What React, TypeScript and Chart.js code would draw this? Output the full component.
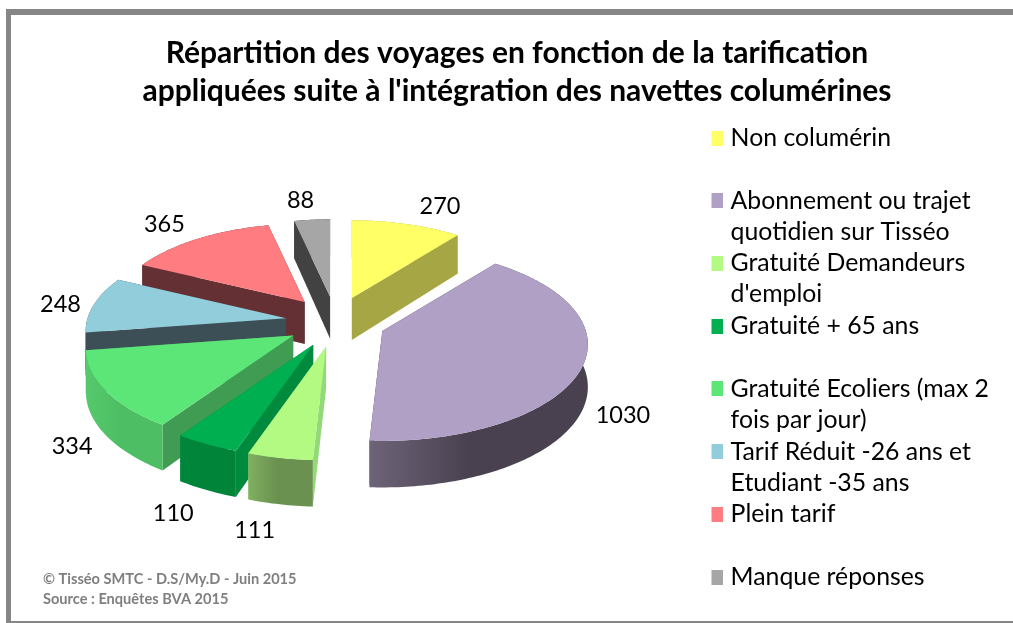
import React, { useEffect, useRef } from "react";
import { Chart, registerables } from "chart.js";

Chart.register(...registerables);

const titleLines = [
  "Répartition des voyages en fonction de la tarification",
  "appliquées suite à l'intégration des navettes columérines",
];
const footerLines = ["© Tisséo SMTC - D.S/My.D - Juin 2015", "Source : Enquêtes BVA 2015"];
const categories = [
  ["Non columérin", ""],
  ["Abonnement ou trajet", "quotidien sur Tisséo"],
  ["Gratuité Demandeurs", "d'emploi"],
  ["Gratuité + 65 ans", ""],
  ["Gratuité Ecoliers (max 2", "fois par jour)"],
  ["Tarif Réduit -26 ans et", "Etudiant -35 ans"],
  ["Plein tarif", ""],
  ["Manque réponses"],
];
const values = [270, 1030, 111, 110, 334, 248, 365, 88];
const topColors = ["#FFFF66", "#B0A0C6", "#B3FA82", "#00B050", "#5CE678", "#92CDDC", "#FF7C80", "#A6A6A6"];
const wallColors = ["#A6A645", "#4A4150", "#93D97A", "#008A3D", "#3F9C52", "#3C4F56", "#653033", "#424242"];
const rimLeftColors = ["#A6A645", "#6E6479", "#80B060", "#00863C", "#55C96C", "#3C4F56", "#653033", "#424242"];
const rimRightColors = ["#A6A645", "#4A4150", "#6A9150", "#00843A", "#4EBE64", "#3C4F56", "#653033", "#424242"];

// Projection of the pie plane onto the screen (a tilted disc seen in perspective).
const VIEW = { cx: 335.5, cy: 322, sx: 200, sy: 93, k: 0.14, tilt: 0.506, depth: 42, slicePersp: 0.05 };

const project = (theta: number, ax: number, ay: number, s: number) => {
  const u = Math.sin(theta);
  const v = -Math.cos(theta);
  const f = (1 / (1 - VIEW.k * v)) * s;
  return { x: ax + VIEW.sx * u * f, y: ay + VIEW.sy * v * f, u, v };
};

const depthAt = (v: number) => VIEW.depth + 4.5 * v;

const swatch = (color: string) => {
  const c = document.createElement("canvas");
  c.width = 15;
  c.height = 15;
  const x = c.getContext("2d")!;
  x.fillStyle = color;
  x.fillRect(0, 0, 15, 15);
  return c;
};

const pie3d = {
  id: "pie3d",
  beforeDatasetDraw(chart: any) {
    const ctx = chart.ctx as CanvasRenderingContext2D;
    const arcs = chart.getDatasetMeta(0).data.map((el: any, i: number) => {
      const p = el.getProps(["startAngle", "endAngle"], true);
      const a0 = p.startAngle + Math.PI / 2;
      const a1 = p.endAngle + Math.PI / 2;
      const mid = (a0 + a1) / 2;
      const off = el.options.offset;
      return {
        i,
        a0,
        a1,
        mid,
        ax: VIEW.cx + off * Math.sin(mid),
        ay: VIEW.cy - off * VIEW.tilt * Math.cos(mid),
        s: 1 - VIEW.slicePersp * Math.cos(mid),
        color: el.options.backgroundColor,
      };
    });
    const sorted = [...arcs].sort((a: any, b: any) => -Math.cos(a.mid) + Math.cos(b.mid));
    sorted.forEach((s: any) => {
      const n = Math.max(2, Math.ceil(((s.a1 - s.a0) * 180) / Math.PI));
      const rim = Array.from({ length: n + 1 }, (_, j) => project(s.a0 + ((s.a1 - s.a0) * j) / n, s.ax, s.ay, s.s));
      const d0 = VIEW.depth;
      // straight cut faces
      [rim[0], rim[n]].forEach((r) => {
        ctx.beginPath();
        ctx.moveTo(s.ax, s.ay);
        ctx.lineTo(r.x, r.y);
        ctx.lineTo(r.x, r.y + depthAt(r.v));
        ctx.lineTo(s.ax, s.ay + d0);
        ctx.closePath();
        ctx.fillStyle = wallColors[s.i];
        ctx.fill();
      });
      // curved rim
      const xs = rim.map((r) => r.x);
      const g = ctx.createLinearGradient(Math.min(...xs), 0, Math.max(...xs), 0);
      g.addColorStop(0, rimLeftColors[s.i]);
      g.addColorStop(0.45, rimRightColors[s.i]);
      g.addColorStop(1, rimRightColors[s.i]);
      ctx.beginPath();
      rim.forEach((r, j) => (j ? ctx.lineTo(r.x, r.y) : ctx.moveTo(r.x, r.y)));
      [...rim].reverse().forEach((r) => ctx.lineTo(r.x, r.y + depthAt(r.v)));
      ctx.closePath();
      ctx.fillStyle = g;
      ctx.fill();
      // top face
      ctx.beginPath();
      ctx.moveTo(s.ax, s.ay);
      rim.forEach((r) => ctx.lineTo(r.x, r.y));
      ctx.closePath();
      ctx.fillStyle = s.color;
      ctx.fill();
    });
    // value labels, placed outside each slice
    ctx.save();
    ctx.font = "23.5px Lato";
    ctx.fillStyle = "#000";
    ctx.textAlign = "center";
    ctx.textBaseline = "middle";
    arcs.forEach((s: any) => {
      const r = project(s.mid, s.ax, s.ay, s.s);
      const label = String(values[s.i]);
      const reach = 13 + ctx.measureText(label).width / 2;
      const dx = reach * Math.max(-1, Math.min(1, r.u / 0.25));
      const dy = r.v < 0 ? 3 + 22 * r.v : 37 + 36 * r.v;
      ctx.fillText(label, r.x + dx, r.y + dy);
    });
    ctx.restore();
    return false;
  },
  afterDraw(chart: any) {
    const ctx = chart.ctx as CanvasRenderingContext2D;
    ctx.save();
    ctx.font = "bold 14.6px Lato";
    ctx.fillStyle = "#7F7F7F";
    ctx.textBaseline = "middle";
    footerLines.forEach((t, i) => ctx.fillText(t, 43, 579 + i * 20));
    ctx.restore();
  },
};

export default function App() {
  const ref = useRef<HTMLCanvasElement>(null);
  useEffect(() => {
    document.body.style.margin = "0";
    const chart = new Chart(ref.current!, {
      type: "pie",
      plugins: [pie3d],
      data: {
        labels: categories as any,
        datasets: [{ data: values, backgroundColor: topColors, borderWidth: 0, offset: 50 }],
      },
      options: {
        animation: false,
        responsive: false,
        layout: { padding: { left: 35, right: 14, top: 0, bottom: 0 } },
        plugins: {
          tooltip: { enabled: false },
          title: {
            display: true,
            text: titleLines,
            color: "#000",
            font: { family: "Lato", size: 30, weight: "bold", lineHeight: "38px" },
            padding: { top: 34, bottom: 15 },
          },
          legend: {
            position: "right",
            align: "start",
            fullSize: false,
            labels: {
              color: "#000",
              usePointStyle: true,
              pointStyleWidth: 6,
              boxHeight: 15,
              padding: 0.7,
              font: { family: "Lato", size: 24.8, lineHeight: "31px" },
              generateLabels(chart: any) {
                const base = (Chart as any).overrides.pie.plugins.legend.labels.generateLabels(chart);
                return base.map((item: any, i: number) => ({ ...item, pointStyle: swatch(topColors[i]) }));
              },
            },
          },
        },
      } as any,
    });
    return () => chart.destroy();
  }, []);
  return (
    <div style={{ position: "relative", width: 1013, height: 623, overflow: "hidden", background: "#fff" }}>
      <div
        style={{
          position: "absolute",
          left: 6,
          top: 9,
          width: 1020,
          height: 606,
          borderTop: "6px solid #868686",
          borderLeft: "5px solid #868686",
          borderBottom: "2px solid #868686",
        }}
      />
      <canvas ref={ref} width={1013} height={623} style={{ position: "absolute", left: 0, top: 0 }} />
    </div>
  );
}
